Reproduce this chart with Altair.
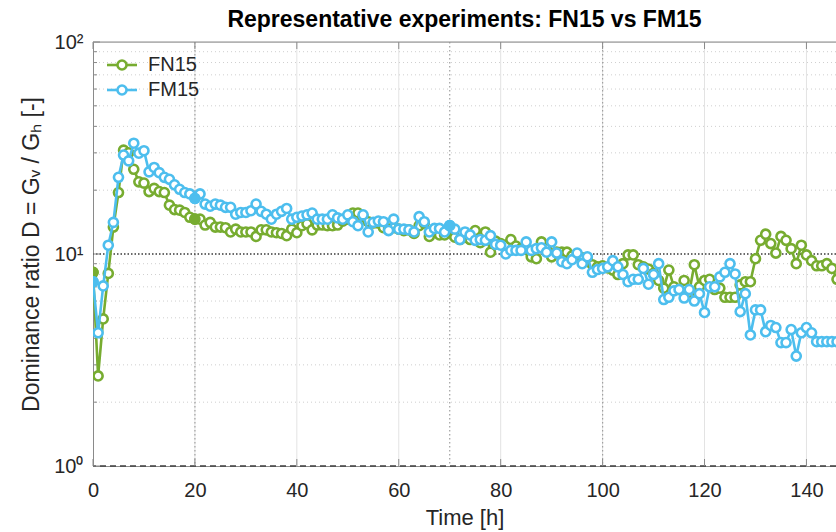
import altair as alt
import pandas as pd

# ---------------- data ----------------
hours = list(range(0, 147))

fn15 = [8.2, 2.66, 4.94, 8.1, 13.4, 19.5, 30.9, 30.0, 25.1, 21.9,
        21.6, 19.7, 20.4, 19.7, 19.5, 17.0, 16.2, 16.1, 15.7, 14.9,
        14.6, 14.6, 13.7, 14.1, 13.4, 13.4, 13.3, 12.7, 13.1, 12.7,
        12.7, 12.7, 12.1, 13.0, 13.0, 12.7, 12.6, 12.5, 12.2, 13.1,
        12.6, 13.6, 13.9, 13.0, 13.7, 13.7, 13.6, 13.6, 13.7, 14.3,
        14.6, 15.6, 15.6, 15.0, 14.2, 14.0, 14.0, 13.3, 13.1, 13.3,
        13.1, 12.9, 13.0, 12.5, 13.6, 14.0, 12.1, 13.0, 12.3, 12.3,
        13.2, 12.0, 11.7, 12.0, 11.7, 12.9, 11.3, 12.7, 10.2, 11.5,
        11.2, 11.0, 11.7, 10.9, 10.6, 10.5, 9.7, 9.5, 11.4, 10.6,
        9.7, 10.2, 10.2, 10.2, 9.8, 9.9, 9.6, 9.4, 8.9, 8.7,
        8.8, 8.6, 8.4, 8.0, 9.0, 9.9, 9.9, 8.9, 8.7, 8.5,
        8.1, 7.5, 6.9, 8.4, 7.0, 6.8, 7.5, 6.6, 8.9, 7.0,
        7.5, 7.6, 6.8, 6.9, 6.25, 6.25, 6.25, 7.15, 7.4, 7.4,
        9.5, 11.6, 12.4, 11.2, 10.1, 12.1, 11.6, 10.6, 9.0, 11.0,
        9.9, 9.3, 8.8, 8.8, 9.0, 8.55, 7.6]

fm15 = [7.4, 4.25, 7.07, 11.0, 14.1, 23.0, 29.3, 27.5, 33.3, 29.9,
        30.7, 24.4, 25.6, 24.2, 23.0, 22.5, 21.2, 20.2, 19.5, 19.2,
        18.3, 19.2, 17.2, 16.8, 17.2, 17.0, 16.6, 16.6, 15.4, 15.7,
        15.7, 16.0, 17.2, 15.9, 15.4, 14.6, 15.4, 15.9, 16.4, 14.6,
        14.9, 15.1, 15.3, 15.6, 14.6, 14.6, 14.6, 15.3, 14.8, 14.6,
        15.3, 14.2, 13.6, 15.3, 12.7, 14.1, 14.3, 14.2, 12.9, 14.6,
        13.1, 13.1, 13.0, 12.7, 15.0, 14.2, 12.7, 13.2, 13.2, 12.7,
        13.6, 13.1, 11.7, 12.7, 12.3, 11.6, 11.7, 11.6, 12.2, 11.1,
        11.0, 10.0, 10.4, 10.4, 10.4, 11.4, 10.4, 10.6, 10.7, 10.2,
        11.4, 10.1, 9.2, 9.0, 9.4, 10.1, 9.0, 9.7, 8.2, 8.45,
        8.55, 8.7, 9.3, 8.7, 8.0, 7.4, 7.6, 7.6, 8.55, 7.2,
        8.0, 9.0, 6.1, 6.25, 6.7, 6.8, 6.2, 6.8, 6.0, 6.5,
        5.3, 7.0, 7.0, 7.8, 8.2, 9.0, 8.05, 5.35, 6.5, 4.15,
        5.45, 5.45, 4.3, 4.6, 4.5, 3.82, 3.82, 4.4, 3.3, 4.25,
        4.5, 4.25, 3.86, 3.86, 3.86, 3.86, 3.86]

series_names = ["FN15", "FM15"]
series_colors = ["#77AC30", "#4DBEEE"]
filled_hours = [0, 20, 70]

x_ticks = [0, 20, 40, 60, 80, 100, 120, 140]
x_grid = [20, 40, 60, 80, 100, 120, 140]
x_ref_lines = [20, 70, 100]
y_major = [1, 10, 100]
y_labels = ["10⁰", "10¹", "10²"]
y_minor = [2, 3, 4, 5, 6, 7, 8, 9, 20, 30, 40, 50, 60, 70, 80, 90]
y_ref_dotted = [10]
y_ref_dashed = [1]

title_text = "Representative experiments: FN15 vs FM15"
x_title = "Time [h]"
y_title = "Dominance ratio D = Gᵥ / Gₕ [-]"

# ---------------- styling ----------------
FONT = "Liberation Sans"
W, H = 743, 424
AX = "#262626"
GRAY = "#8a8a8a"
MSIZE = 82
LW = 2.6

xs = alt.Scale(domain=[0, 145.8], nice=False, zero=False)
ys = alt.Scale(type="log", domain=[1, 100], nice=False)

df = pd.DataFrame({
    "t": hours * 2,
    "v": fn15 + fm15,
    "series": [series_names[0]] * len(hours) + [series_names[1]] * len(hours),
})
df["filled"] = df["t"].isin(filled_hours)

label_expr = ""
for val, lab in zip(y_major[:-1], y_labels[:-1]):
    label_expr += f"datum.value == {val} ? '{lab}' : "
label_expr += f"'{y_labels[-1]}'"

x_axis = alt.Axis(values=x_ticks, format="d", title=x_title, grid=False,
                  ticks=False, tickSize=0, domain=True, domainColor=GRAY,
                  labelFlush=False,
                  labelFont=FONT, labelFontSize=20, labelColor=AX, labelPadding=14,
                  titleFont=FONT, titleFontSize=22, titleFontWeight="normal",
                  titleColor=AX, titlePadding=7)
y_axis = alt.Axis(values=y_major, labelExpr=label_expr, title=y_title, grid=False,
                  ticks=False, tickSize=0, domain=True, domainColor=GRAY,
                  labelFlush=False,
                  labelFont=FONT, labelFontSize=20, labelColor=AX, labelPadding=10,
                  titleFont=FONT, titleFontSize=23, titleFontWeight="normal",
                  titleColor=AX, titlePadding=10)


def X(field="t"):
    return alt.X(f"{field}:Q", scale=xs, axis=x_axis)


def Y(field="v"):
    return alt.Y(f"{field}:Q", scale=ys, axis=y_axis)


# axes carrier (invisible)
axes = alt.Chart(pd.DataFrame({"t": [0], "v": [1]})).mark_point(opacity=0).encode(
    x=X(), y=Y())

# grid lines
vgrid = alt.Chart(pd.DataFrame({"t": x_grid})).mark_rule(
    color="#e3e3e3", strokeWidth=1).encode(x=X())
hminor = alt.Chart(pd.DataFrame({"v": y_minor})).mark_rule(
    color="#cfcfcf", strokeWidth=1, strokeDash=[1, 3]).encode(y=Y())
vref = alt.Chart(pd.DataFrame({"t": x_ref_lines})).mark_rule(
    color="#a0a0a0", strokeWidth=1.2, strokeDash=[1.5, 2.5]).encode(x=X())
href = alt.Chart(pd.DataFrame({"v": y_ref_dotted})).mark_rule(
    color="#3a3a3a", strokeWidth=1.4, strokeDash=[1.5, 2]).encode(y=Y())
hdash = alt.Chart(pd.DataFrame({"v": y_ref_dashed})).mark_rule(
    color="#404040", strokeWidth=1.4, strokeDash=[6, 4]).encode(y=Y())

# inward ticks
tb = alt.Chart(pd.DataFrame({"t": x_ticks})).mark_rule(color=GRAY, strokeWidth=1).encode(
    x=X(), y=alt.value(H), y2=alt.value(H - 7))
tt = alt.Chart(pd.DataFrame({"t": x_ticks})).mark_rule(color=GRAY, strokeWidth=1).encode(
    x=X(), y=alt.value(0), y2=alt.value(7))
tl = alt.Chart(pd.DataFrame({"v": y_major})).mark_rule(color=GRAY, strokeWidth=1).encode(
    y=Y(), x=alt.value(0), x2=alt.value(7))
tlm = alt.Chart(pd.DataFrame({"v": y_minor})).mark_rule(color=GRAY, strokeWidth=1).encode(
    y=Y(), x=alt.value(0), x2=alt.value(4))
top = alt.Chart(pd.DataFrame({"a": [0]})).mark_rule(color=GRAY, strokeWidth=1).encode(
    x=alt.value(0), x2=alt.value(W), y=alt.value(0))

data_layers = []
for name, col in zip(series_names, series_colors):
    sub = df[df["series"] == name]
    base = alt.Chart(sub)
    line = base.mark_line(color=col, strokeWidth=LW, clip=True).encode(x=X(), y=Y())
    pts = base.mark_point(shape="circle", filled=True, fill="white", stroke=col,
                          strokeWidth=LW, size=MSIZE, opacity=1, clip=True).encode(
        x=X(), y=Y())
    fpts = alt.Chart(sub[sub["filled"]]).mark_point(
        shape="circle", filled=True, fill=col, stroke=col, strokeWidth=LW,
        size=MSIZE, opacity=1, clip=True).encode(x=X(), y=Y())
    data_layers += [line, pts, fpts]

# legend (top-left, inside)
legend_layers = []
for i, (name, col) in enumerate(zip(series_names, series_colors)):
    ly = 23 + 25 * i
    ld = alt.Chart(pd.DataFrame({"name": [name]}))
    legend_layers.append(ld.mark_rule(color=col, strokeWidth=LW).encode(
        x=alt.value(14), x2=alt.value(44), y=alt.value(ly)))
    legend_layers.append(ld.mark_point(shape="circle", filled=True, fill="white",
                                       stroke=col, strokeWidth=LW, size=MSIZE, opacity=1).encode(
        x=alt.value(29), y=alt.value(ly)))
    legend_layers.append(ld.mark_text(align="left", baseline="middle", font=FONT,
                                      fontSize=20, color=AX).encode(
        x=alt.value(55), y=alt.value(ly), text="name:N"))

chart = alt.layer(
    axes, vgrid, hminor, vref, href, hdash, tb, tt, tl, tlm, top,
    *data_layers, *legend_layers
).properties(
    width=W, height=H,
    autosize=alt.AutoSizeParams(type="none"),
    padding={"left": 93, "top": 42, "right": 0, "bottom": 66},
    title=alt.TitleParams(title_text, font=FONT, fontSize=23, fontWeight="bold",
                          color="#000000", anchor="middle", offset=0),
).configure_view(stroke=None).configure(background="white")

chart.save("out.html", embed_options={"renderer": "svg", "actions": False})
